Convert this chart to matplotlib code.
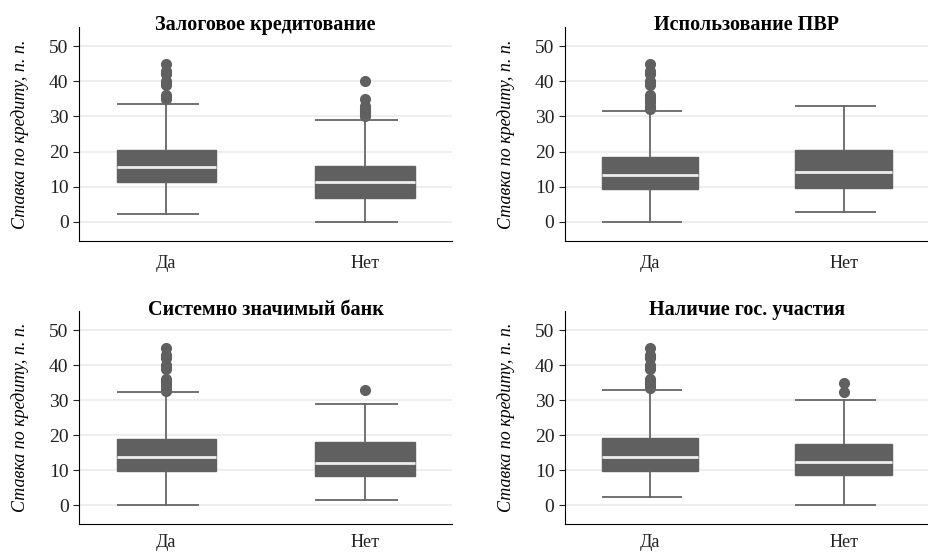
import matplotlib
matplotlib.use("Agg")
import matplotlib.pyplot as plt

plt.rcParams['font.family'] = ['Liberation Serif', 'DejaVu Serif']

titles = ["Залоговое кредитование", "Использование ПВР",
          "Системно значимый банк", "Наличие гос. участия"]
groups = ["Да", "Нет"]
ylabel = "Ставка по кредиту, п. п."

# per panel: [Да, Нет] -> (whislo, q1, med, q3, whishi)
stats_zalog = [(2.4, 11.4, 15.5, 20.5, 33.6), (0.0, 6.8, 11.5, 16.0, 29.1)]
stats_pvr = [(0.0, 9.3, 13.4, 18.5, 31.7), (2.9, 9.7, 14.3, 20.4, 32.9)]
stats_szb = [(0.0, 9.8, 13.8, 19.0, 32.4), (1.5, 8.3, 12.2, 18.0, 29.0)]
stats_gos = [(2.3, 9.8, 13.9, 19.3, 33.0), (0.0, 8.6, 12.4, 17.5, 30.0)]

fliers_zalog = [[35, 35.5, 36, 39, 39.5, 40, 42, 42.5, 43, 45],
                [30, 30.5, 31, 31.5, 32, 32.5, 33, 35, 40]]
fliers_pvr = [[32, 32.5, 33, 34, 35, 35.5, 36, 39, 39.5, 40, 42, 42.5, 43, 45], []]
fliers_szb = [[32.5, 33, 34, 35, 35.5, 36, 39, 39.5, 40, 42, 42.5, 43, 45], [33]]
fliers_gos = [[33.5, 34, 35, 35.5, 36, 39, 39.5, 40, 42, 42.5, 43, 45], [32.4, 35]]

all_stats = [stats_zalog, stats_pvr, stats_szb, stats_gos]
all_fliers = [fliers_zalog, fliers_pvr, fliers_szb, fliers_gos]

box_col = "#606060"
fig = plt.figure(figsize=(9.29, 5.54), dpi=100)
rects = [[0.085, 0.565, 0.402, 0.386], [0.608, 0.565, 0.392, 0.386],
         [0.085, 0.054, 0.402, 0.384], [0.608, 0.054, 0.392, 0.384]]

for i in range(4):
    ax = fig.add_axes(rects[i])
    bstats = []
    for j in range(2):
        lo, q1, med, q3, hi = all_stats[i][j]
        bstats.append(dict(whislo=lo, q1=q1, med=med, q3=q3, whishi=hi,
                           fliers=all_fliers[i][j], label=groups[j]))
    ax.bxp(bstats, positions=[0, 1], widths=0.5, patch_artist=True,
           showcaps=False,
           boxprops=dict(facecolor=box_col, edgecolor=box_col, linewidth=1),
           whiskerprops=dict(color="#666666", linewidth=1.3),
           medianprops=dict(color="#eeeeee", linewidth=2),
           flierprops=dict(marker="o", markerfacecolor=box_col,
                           markeredgecolor=box_col, markersize=7),
           zorder=3)
    # caps (offset like the reference)
    for j in range(2):
        lo, q1, med, q3, hi = all_stats[i][j]
        ax.hlines([lo, hi], j - 0.25, j + 0.165, color="#666666",
                  linewidth=1.3, zorder=3)
    ax.set_xlim(-0.44, 1.44)
    ax.set_ylim(-5.4, 55.4)
    ax.set_yticks([0, 10, 20, 30, 40, 50])
    ax.grid(axis="y", color="#ebebeb", linewidth=1.2, zorder=0)
    ax.set_axisbelow(True)
    ax.spines["top"].set_visible(False)
    ax.spines["right"].set_visible(False)
    xpad = 10 if i < 2 else 7
    ax.tick_params(axis="x", length=0, labelsize=13, pad=xpad, colors="#222222")
    ax.tick_params(axis="y", length=4, labelsize=14, colors="#222222")
    ax.set_title(titles[i], fontsize=14.5, fontweight="bold", y=0.985, pad=0)
    ax.set_ylabel(ylabel, fontsize=13, style="italic", labelpad=14)

fig.savefig("out.png", dpi=100)
